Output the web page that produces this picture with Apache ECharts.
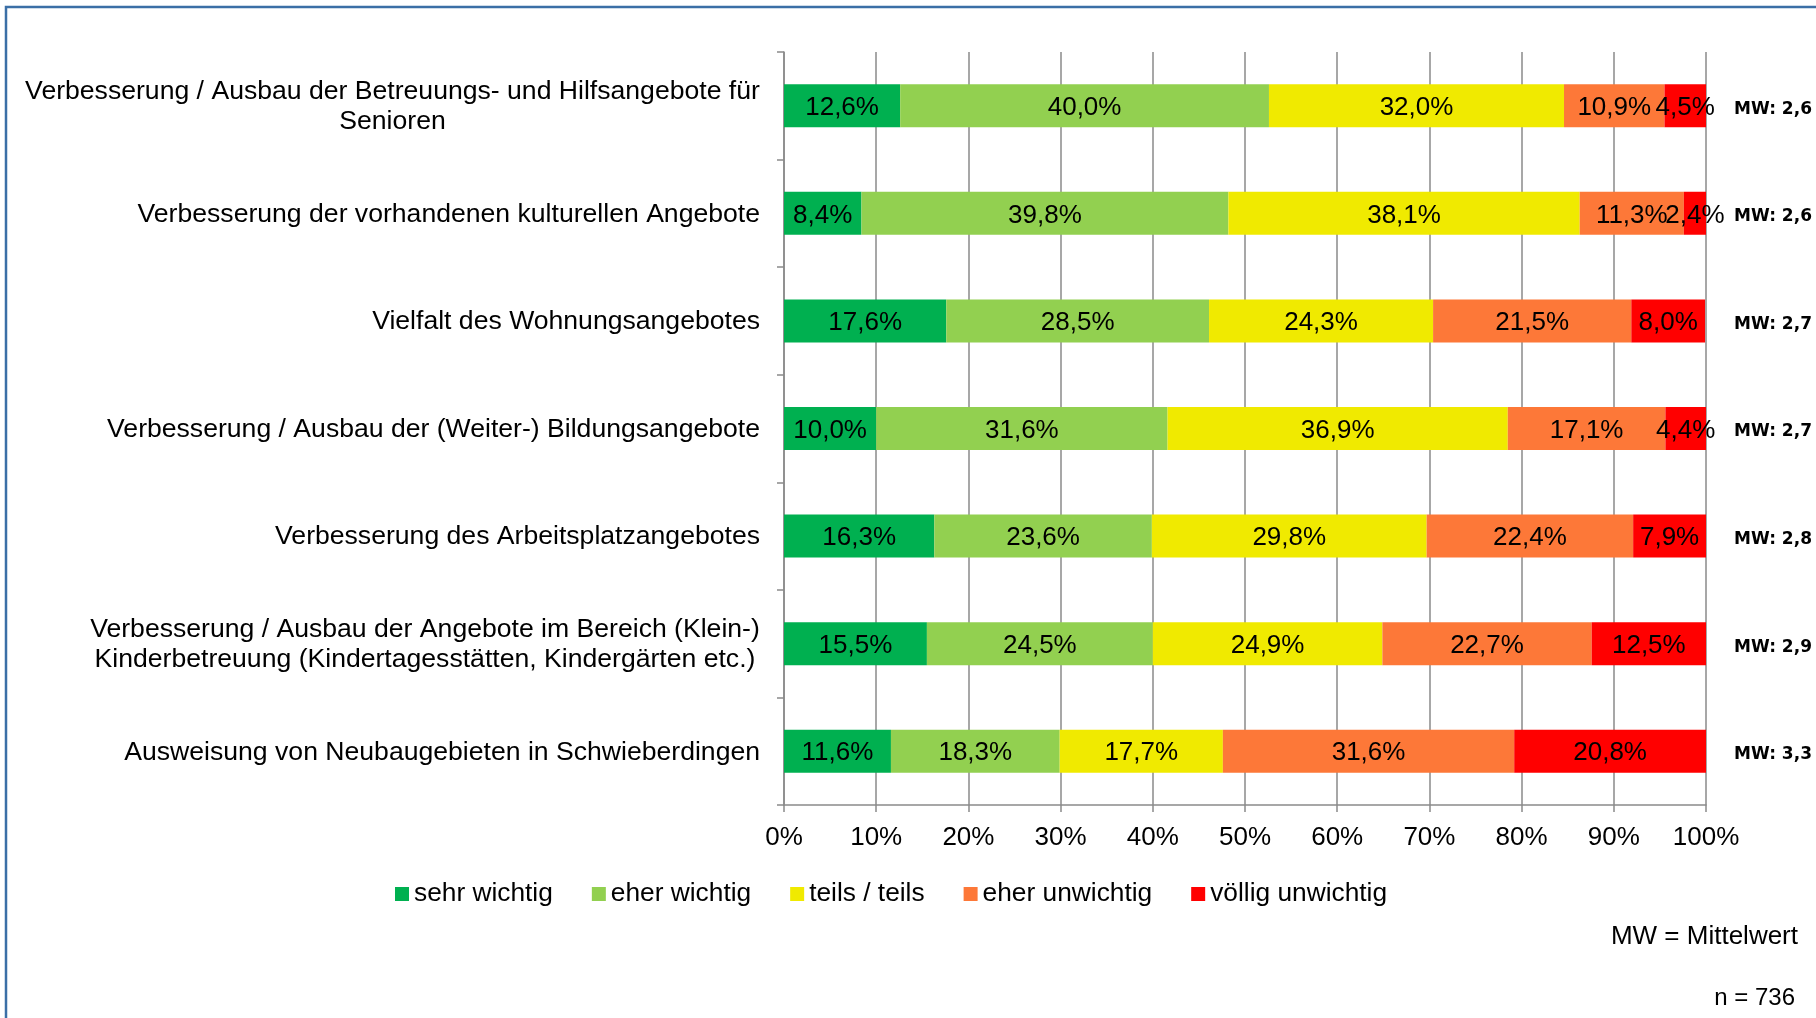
<!DOCTYPE html>
<html>
<head>
<meta charset="utf-8">
<script src="https://cdn.jsdelivr.net/npm/echarts@6/dist/echarts.min.js"></script>
<style>
html,body{margin:0;padding:0;background:#fff;}
#chart{width:1816px;height:1018px;}
</style>
</head>
<body>
<div id="chart"></div>
<script>
const categories = [
  'Verbesserung / Ausbau der Betreuungs- und Hilfsangebote für\nSenioren',
  'Verbesserung der vorhandenen kulturellen Angebote',
  'Vielfalt des Wohnungsangebotes',
  'Verbesserung / Ausbau der (Weiter-) Bildungsangebote',
  'Verbesserung des Arbeitsplatzangebotes',
  'Verbesserung / Ausbau der Angebote im Bereich (Klein-)\nKinderbetreuung (Kindertagesstätten, Kindergärten etc.)',
  'Ausweisung von Neubaugebieten in Schwieberdingen'
];
const seriesNames = ['sehr wichtig', 'eher wichtig', 'teils / teils', 'eher unwichtig', 'völlig unwichtig'];
const sehrWichtig     = [12.6, 8.4, 17.6, 10.0, 16.3, 15.5, 11.6];
const eherWichtig     = [40.0, 39.8, 28.5, 31.6, 23.6, 24.5, 18.3];
const teilsTeils      = [32.0, 38.1, 24.3, 36.9, 29.8, 24.9, 17.7];
const eherUnwichtig   = [10.9, 11.3, 21.5, 17.1, 22.4, 22.7, 31.6];
const voelligUnwichtig= [4.5, 2.4, 8.0, 4.4, 7.9, 12.5, 20.8];
const mwLabels = ['MW: 2,6', 'MW: 2,6', 'MW: 2,7', 'MW: 2,7', 'MW: 2,8', 'MW: 2,9', 'MW: 3,3'];
const xTicks = [0, 10, 20, 30, 40, 50, 60, 70, 80, 90, 100];
const colors = ['#00B050', '#92D050', '#F0EA00', '#FD7838', '#FF0000'];

const FONT = 'Liberation Sans, Arial, sans-serif';
const CAT_FS = 26.6;
const allSeries = [sehrWichtig, eherWichtig, teilsTeils, eherUnwichtig, voelligUnwichtig];

// measure text for centered multi-line category labels
const cv = document.createElement('canvas').getContext('2d');
cv.font = CAT_FS + 'px "Liberation Sans"';
function blockWidth(v) {
  return Math.ceil(Math.max(...v.split('\n').map(l => cv.measureText(l).width)));
}
function catFormatter(v) {
  if (v.indexOf('\n') < 0) return v;
  const key = 'm' + blockWidth(v);
  return v.split('\n').map(l => '{' + key + '|' + l + '}').join('\n');
}
const rich = {};
categories.forEach(c => {
  if (c.indexOf('\n') >= 0) {
    const w = blockWidth(c);
    rich['m' + w] = { width: w, align: 'center', fontSize: CAT_FS, fontFamily: FONT, color: '#000', lineHeight: 30 };
  }
});

const chart = echarts.init(document.getElementById('chart'));
const option = {
  animation: false,
  color: colors,
  grid: { left: 784, right: 110, top: 52, bottom: 213, containLabel: false },
  legend: {
    left: 390, top: 876,
    itemWidth: 14, itemHeight: 14, itemGap: 39,
    icon: 'rect',
    textStyle: { fontSize: 26.3, fontFamily: FONT, color: '#000' },
    data: seriesNames
  },
  xAxis: {
    type: 'value', min: 0, max: 100, interval: 10,
    axisLine: { show: true, lineStyle: { color: '#8a8a8a', width: 1.5 } },
    axisTick: { show: true, length: 7, lineStyle: { color: '#8a8a8a', width: 1.5 } },
    splitLine: { show: true, lineStyle: { color: '#8a8a8a', width: 1.5 } },
    axisLabel: {
      margin: 20, fontSize: 26, fontFamily: FONT, color: '#000',
      formatter: v => v + '%'
    }
  },
  yAxis: [
    {
      type: 'category', inverse: true, data: categories,
      axisLine: { show: true, lineStyle: { color: '#8a8a8a', width: 1.5 } },
      axisTick: { show: true, length: 7, lineStyle: { color: '#8a8a8a', width: 1.5 } },
      axisLabel: {
        margin: 24, fontSize: CAT_FS, fontFamily: FONT, color: '#000', lineHeight: 30,
        padding: [2, 0, 0, 0],
        formatter: catFormatter, rich: rich
      }
    },
    {
      type: 'category', inverse: true, position: 'right', data: mwLabels,
      axisLine: { show: false }, axisTick: { show: false },
      axisLabel: {
        margin: 28, align: 'left',
        formatter: v => '{mw|' + v + '}',
        rich: {
          mw: { fontSize: 17, fontWeight: 'bold', fontFamily: 'DejaVu Sans, Verdana, sans-serif',
                color: '#000', padding: [7, 0, 0, 0] }
        }
      }
    }
  ],
  series: seriesNames.map((n, i) => ({
    name: n, type: 'bar', stack: 'total', barWidth: 43,
    yAxisIndex: 0,
    data: allSeries[i],
    itemStyle: { color: colors[i] },
    label: {
      show: true, position: 'inside', color: '#000', fontSize: 26, fontFamily: FONT,
      offset: [0, 2],
      formatter: p => p.value.toFixed(1).replace('.', ',') + '%'
    }
  })),
  graphic: [
    { type: 'rect', shape: { x: 6, y: 7, width: 1830, height: 1040 },
      style: { fill: 'none', stroke: '#3B6FA6', lineWidth: 2.5 }, silent: true },
    { type: 'text', right: 18, top: 924,
      style: { text: 'MW = Mittelwert', fontSize: 26, fontFamily: FONT, fill: '#000' } },
    { type: 'text', right: 21, top: 986,
      style: { text: 'n = 736', fontSize: 24, fontFamily: FONT, fill: '#000' } }
  ]
};
chart.setOption(option);
</script>
</body>
</html>
